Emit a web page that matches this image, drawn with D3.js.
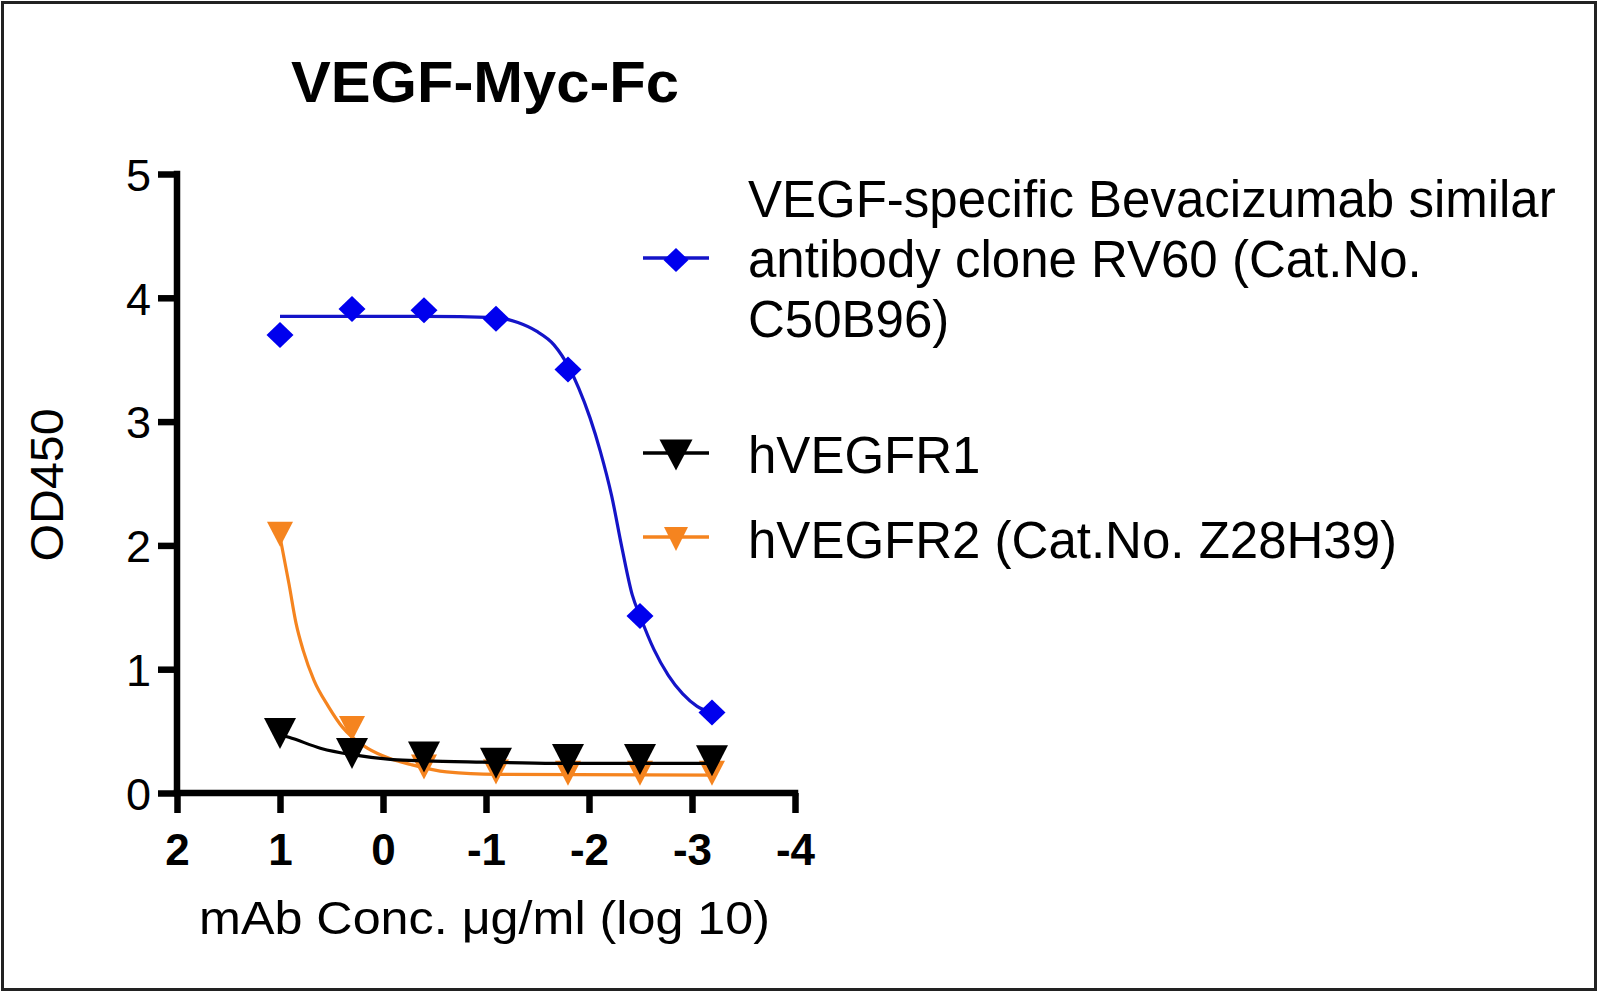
<!DOCTYPE html>
<html>
<head>
<meta charset="utf-8">
<script src="https://cdn.jsdelivr.net/npm/d3@7"></script>
<style>
html,body{margin:0;padding:0;background:#fff;}
svg{display:block;}
text{font-family:"Liberation Sans",Arial,sans-serif;fill:#000;}
</style>
</head>
<body>
<svg id="chart" width="1600" height="993"></svg>
<script>
// ---- data ----
const titleText = "VEGF-Myc-Fc";
const xLabel = "mAb Conc. \u03bcg/ml (log 10)";
const yLabel = "OD450";
const xTicks = [2, 1, 0, -1, -2, -3, -4];
const yTicks = [0, 1, 2, 3, 4, 5];

// log10 concentration of each measured dilution
const concLog = [1, 0.301, -0.398, -1.097, -1.796, -2.495, -3.194];

const seriesNames = [
  ["VEGF-specific Bevacizumab similar", "antibody clone RV60 (Cat.No.", "C50B96)"],
  ["hVEGFR1"],
  ["hVEGFR2 (Cat.No. Z28H39)"]
];
const bevacizumabOD = [3.70, 3.91, 3.90, 3.83, 3.42, 1.43, 0.65];
const vegfr1OD      = [0.48, 0.32, 0.29, 0.24, 0.27, 0.27, 0.26];
const vegfr2OD      = [2.09, 0.52, 0.21, 0.17, 0.16, 0.16, 0.16];

// fitted curves: [log conc, OD]
const bevacizumabFit = [[1,3.85],[0.3,3.85],[-0.4,3.85],[-1.1,3.84],[-1.31,3.80],[-1.49,3.73],
  [-1.66,3.62],[-1.81,3.43],[-1.90,3.27],[-2.01,3.03],[-2.11,2.76],[-2.22,2.40],[-2.32,1.98],
  [-2.42,1.60],[-2.50,1.42],[-2.63,1.16],[-2.77,0.95],[-2.91,0.80],[-3.05,0.70],[-3.194,0.65]];
const vegfr1Fit = [[1,0.47],[0.913,0.45],[0.60,0.36],[0.30,0.31],[-0.095,0.27],[-0.41,0.26],
  [-0.965,0.25],[-1.66,0.24],[-3.194,0.24]];
const vegfr2Fit = [[1,2.07],[0.913,1.69],[0.844,1.37],[0.774,1.15],[0.670,0.91],[0.531,0.70],
  [0.392,0.53],[0.298,0.45],[0.148,0.36],[-0.06,0.28],[-0.269,0.23],[-0.617,0.17],[-1.10,0.15],
  [-3.194,0.145]];

// ---- layout ----
const svg = d3.select("#chart");
const x = d3.scaleLinear().domain([2, -4]).range([177, 795]);
const y = d3.scaleLinear().domain([0, 5]).range([793, 174]);

const BLUE = "#0000ee", BLUE_LINE = "#1414c8", ORANGE = "#f5841f", BLACK = "#000";

// outer frame
svg.append("rect").attr("x", 2.5).attr("y", 2.5).attr("width", 1593).attr("height", 987)
  .attr("fill", "none").attr("stroke", "#222").attr("stroke-width", 3);

// symbols (bbox-centred)
const triDown = (w, h) => ({ draw(ctx) { ctx.moveTo(-w/2, -h/2); ctx.lineTo(w/2, -h/2); ctx.lineTo(0, h/2); ctx.closePath(); } });
const diamond = (w, h) => ({ draw(ctx) { ctx.moveTo(0, -h/2); ctx.lineTo(w/2, 0); ctx.lineTo(0, h/2); ctx.lineTo(-w/2, 0); ctx.closePath(); } });

const series = [
  { name: seriesNames[0], pts: bevacizumabOD, fit: bevacizumabFit, color: BLUE, line: BLUE_LINE, sym: diamond(27, 26), lsym: diamond(25, 24) },
  { name: seriesNames[1], pts: vegfr1OD, fit: vegfr1Fit, color: BLACK, line: BLACK, sym: triDown(32, 31), lsym: triDown(33, 31) },
  { name: seriesNames[2], pts: vegfr2OD, fit: vegfr2Fit, color: ORANGE, line: ORANGE, sym: triDown(26, 25), lsym: triDown(24, 24) }
];

const line = d3.line().x(d => x(d[0])).y(d => y(d[1])).curve(d3.curveMonotoneX);

// draw order: orange, black, blue
[series[2], series[1], series[0]].forEach(s => {
  const g = svg.append("g");
  g.append("path").datum(s.fit).attr("d", line).attr("fill", "none")
    .attr("stroke", s.line).attr("stroke-width", 3.2);
  g.selectAll("path.pt").data(s.pts).join("path").attr("class", "pt")
    .attr("transform", (d, i) => `translate(${x(concLog[i])},${y(d)})`)
    .attr("d", d3.symbol().type(s.sym)())
    .attr("fill", s.color);
});

// axes
const yAxis = d3.axisLeft(y).tickValues(yTicks).tickSize(19).tickSizeOuter(0).tickFormat(d3.format("d"));
const xAxis = d3.axisBottom(x).tickValues(xTicks).tickSize(20).tickSizeOuter(0).tickFormat(d => d < 0 ? "-" + Math.abs(d) : d);

const gy = svg.append("g").attr("transform", "translate(177,0)").call(yAxis);
gy.select(".domain").attr("stroke", "#000").attr("stroke-width", 6.5).attr("stroke-linecap", "square")
  .attr("d", `M0,${y(5)}V${y(0)}`);
gy.selectAll(".tick line").attr("stroke", "#000").attr("stroke-width", 6.5);
gy.selectAll(".tick text").attr("x", -26).attr("dy", "0.36em")
  .style("font-size", "45px").style("font-family", "'Liberation Sans',Arial,sans-serif").attr("fill", "#000");

const gx = svg.append("g").attr("transform", "translate(0,793)").call(xAxis);
gx.select(".domain").attr("stroke", "#000").attr("stroke-width", 6.5).attr("stroke-linecap", "square")
  .attr("d", `M${x(2)},0H${x(-4)}`);
gx.selectAll(".tick line").attr("stroke", "#000").attr("stroke-width", 6.5);
gx.selectAll(".tick text").attr("y", 72).attr("dy", 0)
  .style("font-size", "44px").style("font-weight", "bold")
  .style("font-family", "'Liberation Sans',Arial,sans-serif").attr("fill", "#000");

// title
svg.append("text").attr("x", 485).attr("y", 102).attr("text-anchor", "middle")
  .attr("textLength", 388).attr("lengthAdjust", "spacingAndGlyphs")
  .style("font-size", "57px").style("font-weight", "bold").text(titleText);

// axis titles
svg.append("text").attr("x", 199).attr("y", 934)
  .attr("textLength", 571).attr("lengthAdjust", "spacingAndGlyphs")
  .style("font-size", "47px").text(xLabel);
svg.append("text").attr("transform", "translate(63,485) rotate(-90)").attr("text-anchor", "middle")
  .attr("textLength", 153).attr("lengthAdjust", "spacingAndGlyphs")
  .style("font-size", "46px").text(yLabel);

// legend
const legendRows = [
  { s: series[0], symY: 258, baselines: [217, 277, 337] },
  { s: series[1], symY: 453, baselines: [473] },
  { s: series[2], symY: 537, baselines: [558] }
];
legendRows.forEach(r => {
  const g = svg.append("g");
  g.append("line").attr("x1", 643).attr("x2", 709).attr("y1", r.symY).attr("y2", r.symY)
    .attr("stroke", r.s.line).attr("stroke-width", 3.3);
  g.append("path").attr("transform", `translate(676,${r.symY + 2})`)
    .attr("d", d3.symbol().type(r.s.lsym)()).attr("fill", r.s.color);
  r.s.name.forEach((t, i) => {
    g.append("text").attr("x", 748).attr("y", r.baselines[i]).style("font-size", "51px").text(t);
  });
});
</script>
</body>
</html>
